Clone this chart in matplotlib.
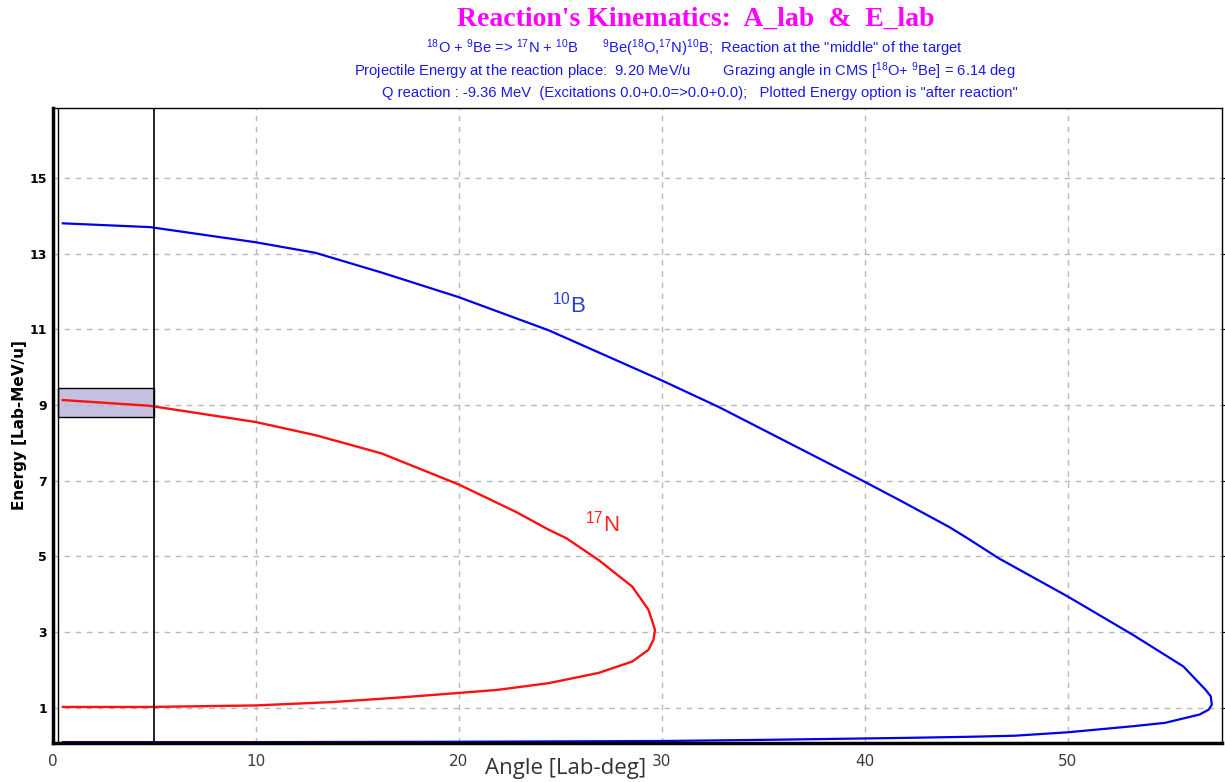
import matplotlib.pyplot as plt
from matplotlib.patches import Rectangle

# 10B curve (upper branch then lower branch)
b10_angle = [0.5, 4.8, 10, 12.95, 16.2, 20, 24.45, 30, 32.8, 40, 41.7, 44.15, 45, 46.6, 50, 53.2, 55.7, 56.8,
             57.05, 57.1, 56.95, 56.5, 54.8, 53.2, 50, 47.4, 45, 41.7, 35, 30, 20, 10, 0.5]
b10_energy = [13.80, 13.70, 13.30, 13.02, 12.5, 11.85, 10.97, 9.65, 8.95, 6.97, 6.49, 5.78, 5.5, 4.95, 3.94, 2.93, 2.09, 1.47,
              1.3, 1.08, 0.95, 0.82, 0.60, 0.51, 0.35, 0.26, 0.23, 0.20, 0.15, 0.12, 0.10, 0.09, 0.09]

# 17N curve
n17_angle = [0.5, 4.75, 10, 12.96, 16.2, 20, 22.8, 24.45, 25.3, 26.9, 28.55, 29.35, 29.67,
             29.6, 29.35, 28.55, 26.9, 24.45, 21.9, 20, 17.1, 13.8, 10, 4.8, 0.5]
n17_energy = [9.13, 8.98, 8.55, 8.20, 7.72, 6.9, 6.18, 5.70, 5.48, 4.90, 4.20, 3.59, 3.06,
              2.8, 2.53, 2.22, 1.92, 1.65, 1.47, 1.39, 1.27, 1.15, 1.06, 1.02, 1.02]

angle_cut = 5.0
beam_band = (8.68, 9.44)
y_ticks = [1, 3, 5, 7, 9, 11, 13, 15]
x_ticks = [0, 10, 20, 30, 40, 50]

title = "Reaction's Kinematics:  A_lab  &  E_lab"
line1 = r'$^{18}$O + $^{9}$Be => $^{17}$N + $^{10}$B      $^{9}$Be($^{18}$O,$^{17}$N)$^{10}$B;  Reaction at the "middle" of the target'
line2 = r'Projectile Energy at the reaction place:  9.20 MeV/u        Grazing angle in CMS [$^{18}$O+ $^{9}$Be] = 6.14 deg'
line3 = 'Q reaction : -9.36 MeV  (Excitations 0.0+0.0=>0.0+0.0);   Plotted Energy option is "after reaction"'

plt.rcParams['mathtext.fontset'] = 'custom'
plt.rcParams['mathtext.rm'] = 'Liberation Sans'
plt.rcParams['mathtext.it'] = 'Liberation Sans'
plt.rcParams['mathtext.default'] = 'rm'

fig = plt.figure(figsize=(12.25, 7.82), dpi=100)
ax = fig.add_axes([0.043, 0.050, 0.9545, 0.812])

ax.plot(b10_angle, b10_energy, color='#0000ee', lw=1.6)
ax.plot(n17_angle, n17_energy, color='#ff1010', lw=1.7)

ax.add_patch(Rectangle((0.25, beam_band[0]), angle_cut - 0.25, beam_band[1] - beam_band[0],
                       facecolor='#c5bfe0', edgecolor='black', lw=1.0, zorder=1))
ax.axvline(angle_cut, color='black', lw=1.2)
ax.axvline(0.25, color='black', lw=1.0)

ax.text(24.6, 11.45, r'$^{10}$B', color='#2a3fcf', fontsize=16, family='Liberation Sans')
ax.text(26.2, 5.65, r'$^{17}$N', color='#ff2020', fontsize=16, family='Liberation Sans')

ax.set_xlim(0, 57.6)
ax.set_ylim(0.07, 16.85)
ax.set_xticks(x_ticks)
ax.set_yticks(y_ticks)
ax.grid(True, color='#b8b8b8', linestyle=(0, (4, 4)), lw=1.0)
ax.tick_params(axis='y', left=False, right=True, direction='out', length=3, pad=1, labelsize=9)
ax.tick_params(axis='x', length=0, pad=8, labelsize=11, labelcolor='#3a3a3a')
for lab in ax.get_yticklabels():
    lab.set_fontweight('bold')
for s in ['left', 'bottom']:
    ax.spines[s].set_linewidth(2.5)
ax.spines['top'].set_linewidth(1.0)
ax.spines['right'].set_linewidth(1.0)

ax.set_ylabel('Energy [Lab-MeV/u]', fontsize=11, fontweight='bold')
ax.yaxis.set_label_coords(-0.022, 0.5)
fig.text(0.462, 0.004, 'Angle [Lab-deg]', fontsize=16, color='#333333', ha='center', va='bottom',
         family='Open Sans')

fig.text(0.568, 0.975, title, color='#ff00ff', fontsize=20, fontweight='bold', ha='center', va='center',
         family='Liberation Serif')
sub = dict(color='#1a1ae6', fontsize=10.6, ha='center', va='center', family='Liberation Sans')
fig.text(0.567, 0.938, line1, **sub)
fig.text(0.559, 0.909, line2, **sub)
fig.text(0.571, 0.881, line3, **sub)

fig.savefig('out.png', dpi=100)
